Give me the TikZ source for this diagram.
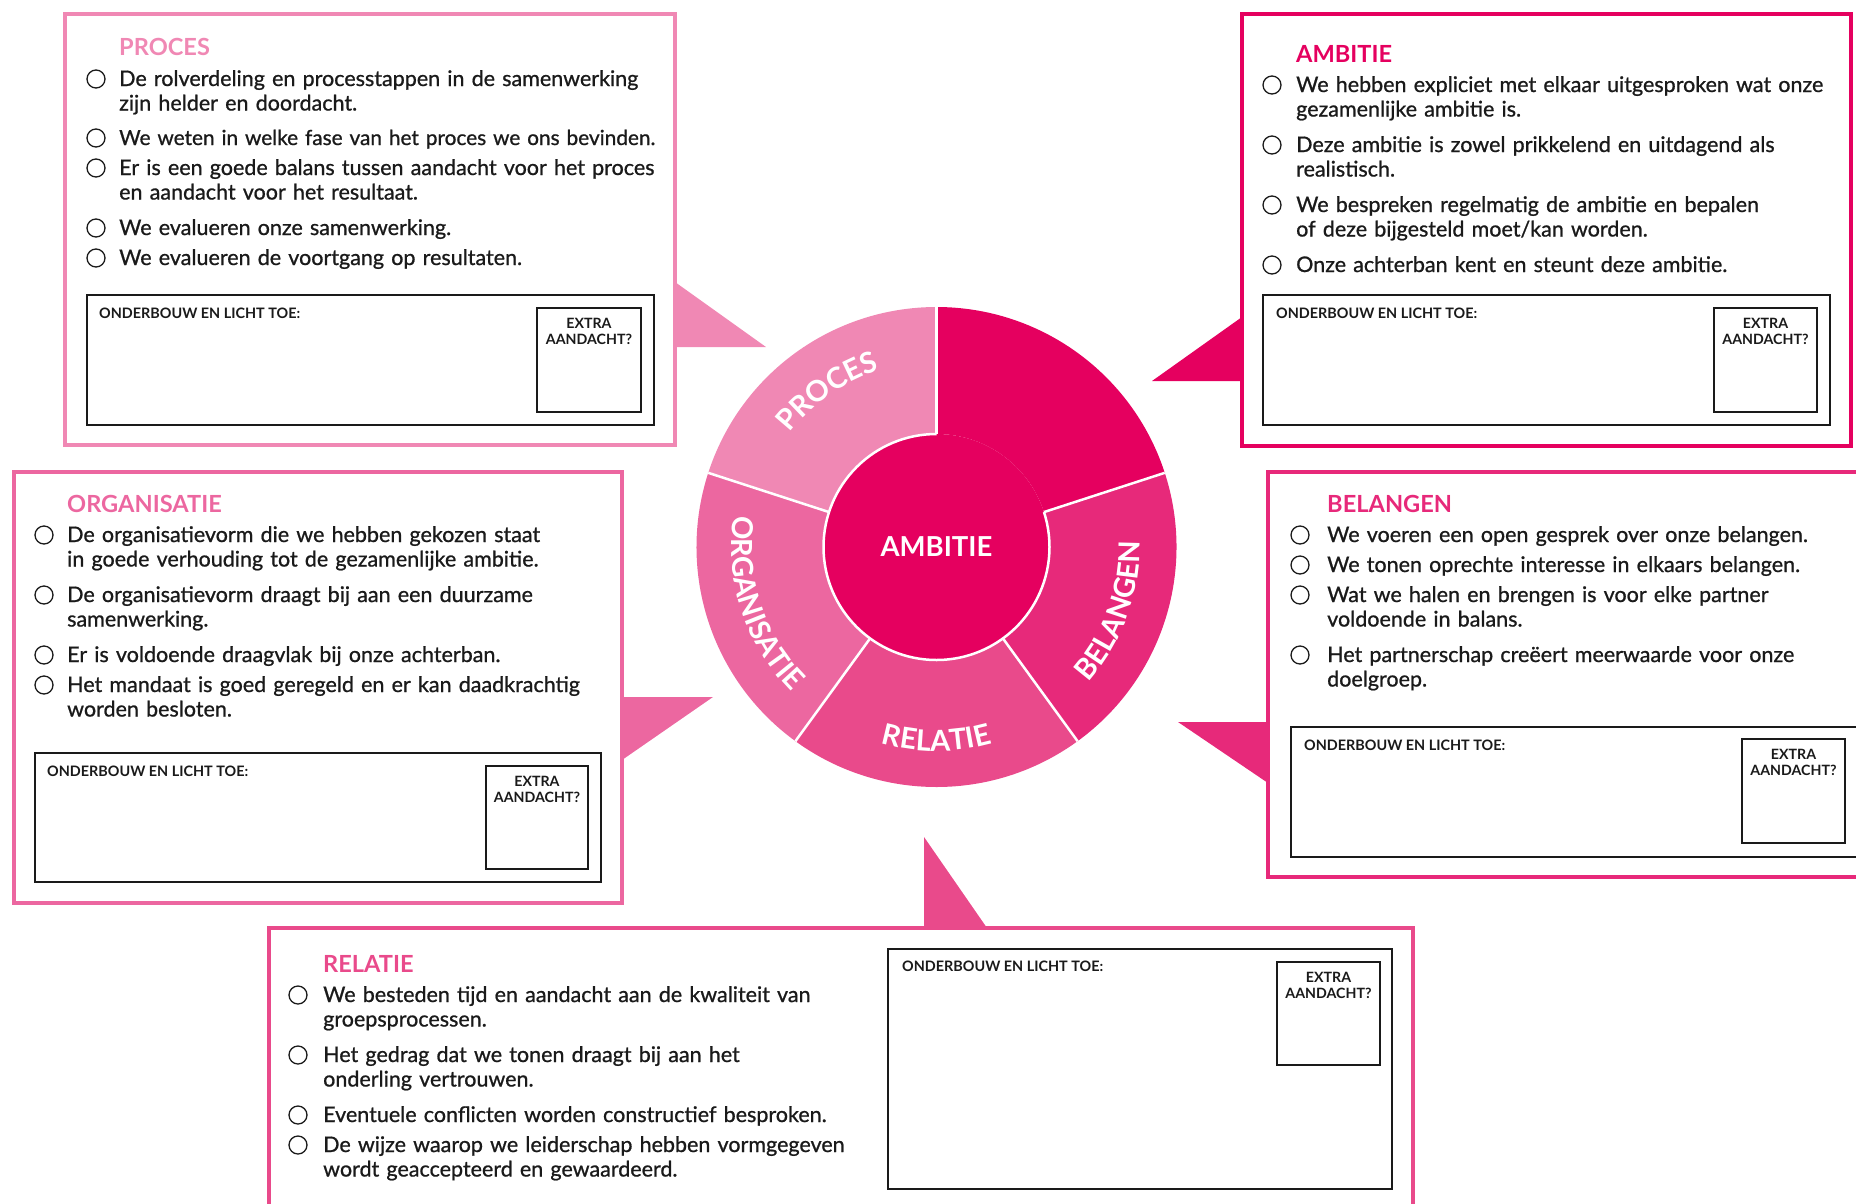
\documentclass[tikz,border=0pt]{standalone}
\usepackage{fontspec}
\setmainfont{Lato}
\newfontfamily\itemfont{Lato}[FakeBold=0.9]
\usetikzlibrary{decorations.text}
\definecolor{procescol}{HTML}{F088B4}
\definecolor{orgcol}{HTML}{EC67A0}
\definecolor{relcol}{HTML}{E94A8B}
\definecolor{belcol}{HTML}{E7297A}
\definecolor{ambcol}{HTML}{E5005F}
\definecolor{inkcol}{HTML}{1A1A1A}
\newcommand{\ringfont}{\bfseries\fontsize{29}{31}\selectfont}

\begin{document}
\begin{tikzpicture}[x=1pt,y=1pt,
  panel/.style={line width=4pt},
  notebox/.style={draw=inkcol,line width=1.4pt},
  bullet/.style={draw=inkcol,line width=1.3pt},
  paneltitle/.style={anchor=base west,inner sep=0pt,font=\bfseries\fontsize{23.6}{28}\selectfont},
  checkitem/.style={anchor=base west,inner sep=0pt,text width=600pt,align=left,text=inkcol,font=\itemfont\fontsize{21.5}{24.5}\selectfont},
  notetext/.style={anchor=base west,inner sep=0pt,text=inkcol,font=\bfseries\fontsize{14.4}{16}\selectfont},
  extratext/.style={anchor=base,inner sep=0pt,text width=100pt,align=center,text=inkcol,font=\bfseries\fontsize{14.2}{16}\selectfont},
  ringtext/.style={decorate,decoration={text along path,text align=center,text color=white}}]
\useasboundingbox (0,0) rectangle (1856,-1203);

% wheel
\begin{scope}[shift={(936.5,-547)}]
\fill[ambcol] (0,0) circle (113);
\fill[ambcol] (18:240) arc (18:90:240) -- (90:113) arc (90:18:113) -- cycle;
\fill[procescol] (90:240) arc (90:162:240) -- (162:113) arc (162:90:113) -- cycle;
\fill[orgcol] (162:240) arc (162:234:240) -- (234:113) arc (234:162:113) -- cycle;
\fill[relcol] (234:240) arc (234:306:240) -- (306:113) arc (306:234:113) -- cycle;
\fill[belcol] (306:240) arc (306:378:240) -- (378:113) arc (378:306:113) -- cycle;
\draw[white,line width=2.5pt] (90:113) arc (90:378:113);
\foreach \a in {18,90,162,234,306} \draw[white,line width=2.5pt] (\a:113) -- (\a:240);
\node[text=white,font=\bfseries\fontsize{27.5}{30}\selectfont] (ambitie) at (0,0) {AMBITIE};
\path[ringtext,decoration={text={|\ringfont|PROCES}}] (185:186) arc (185:65:186);
\path[ringtext,decoration={text={|\ringfont|ORGANISATIE}}] (138:205) arc (138:258:205);
\path[ringtext,decoration={text={|\ringfont|RELATIE}}] (210:204) arc (210:330:204);
\path[ringtext,decoration={text={|\ringfont|BELANGEN}}] (280:203) arc (280:400:203);
\end{scope}

% PROCES
\draw[procescol,panel] (65,-14) rectangle (675,-445);
\fill[procescol] (675,-282) -- (766,-347) -- (675,-347) -- cycle;
\node[paneltitle,text=procescol] (prtitle) at (119,-55) {PROCES};
\foreach \y in {79,138,168,228,258} \draw[bullet] (96,-\y) circle (9);
\node[checkitem] (pr1) at (119,-86) {De rolverdeling en processtappen in de samenwerking\\zijn helder en doordacht.};
\node[checkitem,font=\itemfont\fontsize{20.8}{24.5}\selectfont] (pr2) at (119,-145) {We weten in welke fase van het proces we ons bevinden.};
\node[checkitem] (pr3) at (119,-175) {Er is een goede balans tussen aandacht voor het proces\\en aandacht voor het resultaat.};
\node[checkitem] (pr4) at (119,-235) {We evalueren onze samenwerking.};
\node[checkitem] (pr5) at (119,-265) {We evalueren de voortgang op resultaten.};
\draw[notebox] (87,-295) rectangle (654,-425);
\draw[notebox] (537,-308) rectangle (641,-412);
\node[notetext] (prnote) at (99,-318) {ONDERBOUW EN LICHT TOE:};
\node[extratext] (prextra) at (589,-328) {EXTRA\\AANDACHT?};

% AMBITIE
\draw[ambcol,panel] (1242,-14) rectangle (1851,-446);
\fill[ambcol] (1242,-317) -- (1152,-381) -- (1242,-381) -- cycle;
\node[paneltitle,text=ambcol] (amtitle) at (1296,-62) {AMBITIE};
\foreach \y in {85,145,205,265} \draw[bullet] (1272,-\y) circle (9);
\node[checkitem] (am1) at (1296,-92) {We hebben expliciet met elkaar uitgesproken wat onze\\gezamenlijke ambitie is.};
\node[checkitem] (am2) at (1296,-152) {Deze ambitie is zowel prikkelend en uitdagend als\\realistisch.};
\node[checkitem] (am3) at (1296,-212) {We bespreken regelmatig de ambitie en bepalen\\of deze bijgesteld moet/kan worden.};
\node[checkitem] (am4) at (1296,-272) {Onze achterban kent en steunt deze ambitie.};
\draw[notebox] (1263,-295) rectangle (1830,-425);
\draw[notebox] (1714,-308) rectangle (1817,-412);
\node[notetext] (amnote) at (1276,-318) {ONDERBOUW EN LICHT TOE:};
\node[extratext] (amextra) at (1765.5,-328) {EXTRA\\AANDACHT?};

% ORGANISATIE
\draw[orgcol,panel] (14,-472) rectangle (622,-903);
\fill[orgcol] (622,-697) -- (713,-697) -- (622,-760) -- cycle;
\node[paneltitle,text=orgcol] (ortitle) at (67,-512) {ORGANISATIE};
\foreach \y in {535,595,655,685} \draw[bullet] (44,-\y) circle (9);
\node[checkitem] (or1) at (67,-542) {De organisatievorm die we hebben gekozen staat\\in goede verhouding tot de gezamenlijke ambitie.};
\node[checkitem] (or2) at (67,-602) {De organisatievorm draagt bij aan een duurzame\\samenwerking.};
\node[checkitem] (or3) at (67,-662) {Er is voldoende draagvlak bij onze achterban.};
\node[checkitem] (or4) at (67,-692) {Het mandaat is goed geregeld en er kan daadkrachtig\\worden besloten.};
\draw[notebox] (35,-753) rectangle (601,-882);
\draw[notebox] (486,-766) rectangle (588,-869);
\node[notetext] (ornote) at (47,-776) {ONDERBOUW EN LICHT TOE:};
\node[extratext] (orextra) at (537,-786) {EXTRA\\AANDACHT?};

% BELANGEN
\draw[belcol,panel] (1268,-472) rectangle (1870,-877);
\fill[belcol] (1268,-722) -- (1178,-722) -- (1268,-783) -- cycle;
\node[paneltitle,text=belcol] (betitle) at (1327,-512) {BELANGEN};
\foreach \y in {535,565,595,655} \draw[bullet] (1300,-\y) circle (9);
\node[checkitem] (be1) at (1327,-542) {We voeren een open gesprek over onze belangen.};
\node[checkitem] (be2) at (1327,-572) {We tonen oprechte interesse in elkaars belangen.};
\node[checkitem] (be3) at (1327,-602) {Wat we halen en brengen is voor elke partner\\voldoende in balans.};
\node[checkitem] (be4) at (1327,-662) {Het partnerschap creëert meerwaarde voor onze\\doelgroep.};
\draw[notebox] (1291,-727) rectangle (1862,-857);
\draw[notebox] (1742,-739) rectangle (1845,-843);
\node[notetext] (benote) at (1304,-750) {ONDERBOUW EN LICHT TOE:};
\node[extratext] (beextra) at (1793.5,-759) {EXTRA\\AANDACHT?};

% RELATIE
\draw[relcol,panel] (269,-928) rectangle (1413,-1215);
\fill[relcol] (924,-837) -- (924,-928) -- (987,-928) -- cycle;
\node[paneltitle,text=relcol] (retitle) at (323,-972) {RELATIE};
\foreach \y in {995,1055,1115,1145} \draw[bullet] (298,-\y) circle (9);
\node[checkitem] (re1) at (323,-1002) {We besteden tijd en aandacht aan de kwaliteit van\\groepsprocessen.};
\node[checkitem] (re2) at (323,-1062) {Het gedrag dat we tonen draagt bij aan het\\onderling vertrouwen.};
\node[checkitem] (re3) at (323,-1122) {Eventuele conflicten worden constructief besproken.};
\node[checkitem] (re4) at (323,-1152) {De wijze waarop we leiderschap hebben vormgegeven\\wordt geaccepteerd en gewaardeerd.};
\draw[notebox] (888,-949) rectangle (1392,-1189);
\draw[notebox] (1277,-962) rectangle (1380,-1065);
\node[notetext] (renote) at (902,-971) {ONDERBOUW EN LICHT TOE:};
\node[extratext] (reextra) at (1328.5,-982) {EXTRA\\AANDACHT?};
\end{tikzpicture}
\end{document}
